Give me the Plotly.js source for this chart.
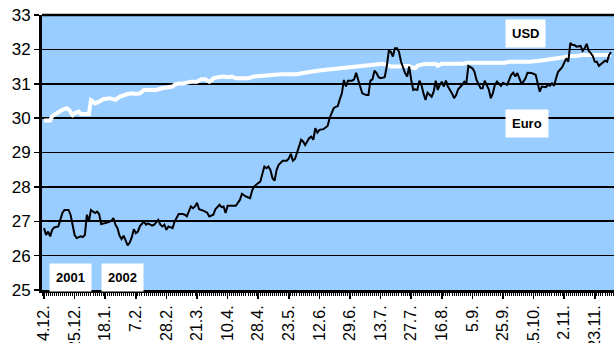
<!DOCTYPE html>
<html>
<head>
<meta charset="utf-8">
<script src="https://cdn.plot.ly/plotly-3.0.1.min.js"></script>
<style>
  html, body { margin: 0; padding: 0; background: #ffffff; }
  #chart { width: 614px; height: 343px; }
</style>
</head>
<body>
<div id="chart"></div>
<script>
// Trading-day index (0 = 4.12.2001) and rate in roubles
const tickDays = [0, 15, 30, 45, 60, 75, 90, 105, 120, 135, 150, 165, 180, 195, 210, 225, 240, 255, 270];
const tickLabels = ["4.12.", "25.12.", "18.1.", "7.2.", "28.2.", "21.3.", "10.4.", "28.4.", "23.5.", "12.6.",
                    "29.6.", "13.7.", "27.7.", "16.8.", "5.9.", "25.9.", "15.10.", "2.11.", "23.11."];

const usdDay = [0, 3, 4, 6, 9, 11, 12, 14, 15, 17, 18, 22, 23, 24, 25, 27, 29, 32, 34, 35, 37, 39, 41, 43, 45, 47, 49, 51, 54, 55,
  58, 60, 63, 64, 66, 68, 72, 75, 77, 79, 81, 82, 83, 85, 88, 90, 92, 94, 97, 100, 103, 107, 110, 113, 117, 121, 124, 127, 130,
  134, 137, 140, 143, 147, 150, 153, 157, 160, 163, 166, 168, 170, 174, 176, 179, 180, 182, 183, 186, 188, 192, 193, 195, 198,
  201, 205, 208, 211, 216, 221, 226, 228, 233, 238, 243, 248, 250, 251, 255, 258, 261, 264, 268, 271, 274, 277, 278];
const usdRate = [29.93, 29.93, 30.06, 30.14, 30.24, 30.29, 30.26, 30.09, 30.14, 30.19, 30.12, 30.12, 30.52, 30.48, 30.43, 30.48,
  30.55, 30.58, 30.55, 30.53, 30.62, 30.67, 30.70, 30.72, 30.70, 30.72, 30.82, 30.82, 30.80, 30.82, 30.87, 30.90, 30.92, 30.97,
  31.01, 31.01, 31.06, 31.06, 31.13, 31.13, 31.06, 31.09, 31.16, 31.19, 31.21, 31.19, 31.21, 31.16, 31.16, 31.16, 31.21, 31.24,
  31.25, 31.26, 31.28, 31.28, 31.28, 31.31, 31.35, 31.38, 31.40, 31.42, 31.45, 31.45, 31.48, 31.50, 31.52, 31.55, 31.58, 31.58,
  31.55, 31.50, 31.50, 31.52, 31.52, 31.48, 31.45, 31.52, 31.57, 31.58, 31.58, 31.52, 31.58, 31.58, 31.58, 31.58, 31.61, 31.61,
  31.61, 31.61, 31.61, 31.64, 31.64, 31.64, 31.67, 31.71, 31.71, 31.74, 31.77, 31.81, 31.81, 31.84, 31.84, 31.84, 31.84, 31.84, 31.84];

const euroDay = [0, 1, 2, 3, 4, 5, 7, 8, 9, 10, 12, 13, 14, 15, 16, 18, 19, 20, 21, 22, 23, 25, 26, 27, 28, 30, 31, 33, 34, 35,
  36, 37, 38, 39, 40, 41, 42, 43, 44, 45, 46, 47, 49, 50, 51, 53, 54, 56, 57, 58, 59, 60, 61, 63, 64, 66, 68, 69, 70, 72, 73, 74,
  75, 76, 78, 80, 81, 83, 84, 86, 87, 88, 89, 90, 92, 94, 96, 97, 99, 101, 102, 103, 105, 106, 108, 109, 110, 111, 112, 113, 114,
  115, 117, 119, 120, 121, 122, 123, 125, 126, 127, 128, 130, 131, 132, 133, 134, 135, 137, 139, 140, 142, 143, 144, 145, 146,
  147, 148, 149, 151, 152, 153, 154, 155, 156, 158, 159, 160, 161, 162, 163, 164, 165, 167, 168, 169, 170, 171, 172, 173, 174,
  175, 176, 177, 178, 179, 180, 181, 182, 183, 184, 185, 186, 187, 188, 190, 191, 192, 193, 194, 195, 196, 197, 198, 200, 201,
  202, 203, 205, 206, 207, 208, 210, 211, 212, 214, 215, 216, 218, 219, 220, 221, 222, 224, 225, 226, 227, 228, 229, 230, 231,
  232, 233, 234, 235, 236, 237, 239, 241, 242, 243, 244, 246, 247, 248, 249, 250, 251, 252, 254, 255, 256, 257, 258, 259, 260,
  261, 263, 264, 265, 266, 267, 268, 269, 270, 271, 272, 274, 275, 276, 277, 278];
const euroRate = [26.80, 26.60, 26.70, 26.56, 26.75, 26.82, 26.85, 27.09, 27.24, 27.33, 27.33, 27.19, 26.94, 26.60, 26.51, 26.56,
  26.54, 26.60, 27.19, 27.00, 27.33, 27.24, 27.28, 27.21, 26.92, 26.94, 26.96, 27.01, 27.09, 26.90, 26.80, 26.58, 26.48, 26.58,
  26.43, 26.30, 26.38, 26.53, 26.77, 26.65, 26.70, 26.86, 26.99, 26.90, 26.94, 26.87, 26.90, 27.04, 26.90, 26.85, 26.90, 26.75,
  26.85, 26.80, 26.99, 27.21, 27.21, 27.19, 27.14, 27.43, 27.38, 27.43, 27.54, 27.35, 27.31, 27.25, 27.14, 27.19, 27.35, 27.48,
  27.41, 27.43, 27.24, 27.45, 27.45, 27.45, 27.62, 27.80, 27.72, 27.67, 27.89, 28.01, 28.11, 28.15, 28.59, 28.54, 28.59, 28.49,
  28.25, 28.18, 28.49, 28.64, 28.76, 28.76, 28.83, 28.96, 28.76, 28.81, 29.17, 29.37, 29.32, 29.22, 29.42, 29.46, 29.37, 29.71,
  29.58, 29.66, 29.68, 29.77, 30.00, 30.29, 30.33, 30.35, 30.55, 30.72, 31.11, 30.92, 31.09, 31.09, 31.13, 31.32, 31.11, 30.94,
  30.72, 30.67, 30.67, 31.09, 31.13, 31.38, 31.31, 31.19, 31.16, 31.19, 31.50, 31.96, 31.93, 31.79, 32.03, 32.03, 31.93, 31.64,
  31.45, 31.31, 31.21, 31.50, 31.11, 30.82, 30.84, 30.82, 31.09, 30.97, 30.72, 30.53, 30.74, 30.62, 30.77, 31.09, 30.82, 30.97,
  31.06, 30.92, 31.09, 30.92, 30.72, 30.58, 30.67, 30.84, 30.97, 31.06, 31.01, 31.52, 31.45, 31.35, 31.11, 30.87, 30.87, 31.09,
  30.84, 30.58, 30.72, 30.97, 31.06, 30.94, 31.03, 31.01, 30.97, 31.11, 31.26, 31.32, 31.21, 31.31, 31.16, 31.01, 31.06, 31.16,
  31.32, 31.31, 31.26, 31.01, 30.77, 30.92, 30.90, 30.97, 30.94, 31.01, 30.94, 31.16, 31.35, 31.48, 31.64, 31.74, 31.64, 32.19,
  32.13, 32.13, 32.08, 32.10, 31.96, 32.03, 32.16, 31.96, 31.89, 31.81, 31.64, 31.64, 31.52, 31.61, 31.67, 31.64, 31.84, 31.92];

const FONT = "Arial, 'Liberation Sans', sans-serif";

const traces = [
  { x: usdDay, y: usdRate, type: "scatter", mode: "lines", name: "USD",
    line: { color: "#ffffff", width: 4 }, hoverinfo: "skip" },
  { x: euroDay, y: euroRate, type: "scatter", mode: "lines", name: "Euro",
    line: { color: "#000000", width: 2 }, hoverinfo: "skip" }
];

function boxLabel(text, x, y) {
  return { text: "<b>" + text + "</b>", xref: "paper", yref: "paper", x: x, y: y,
    xanchor: "center", yanchor: "middle", showarrow: false,
    bgcolor: "#ffffff", borderpad: 6, font: { family: FONT, size: 13, color: "#000000" } };
}

const layout = {
  width: 614, height: 343,
  margin: { l: 42, r: 0, t: 15, b: 53 },
  paper_bgcolor: "#ffffff",
  plot_bgcolor: "#99ccff",
  showlegend: false,
  font: { family: FONT, color: "#000000" },
  xaxis: {
    range: [-1, 279.4],
    tickmode: "array", tickvals: tickDays, ticktext: tickLabels,
    tickangle: -90, tickfont: { family: FONT, size: 16, color: "#000000" },
    ticks: "outside", ticklen: 6, tickwidth: 1.5, tickcolor: "#000000",
    minor: { tickmode: "linear", tick0: 0, dtick: 1, ticks: "outside", ticklen: 3, tickwidth: 1, tickcolor: "#000000", showgrid: false },
    showline: true, linecolor: "#000000", linewidth: 3,
    showgrid: false, zeroline: false, fixedrange: true
  },
  yaxis: {
    range: [25, 33], tickmode: "linear", tick0: 25, dtick: 1,
    tickfont: { family: FONT, size: 17, color: "#000000" },
    ticks: "outside", ticklen: 5, tickwidth: 1.5, tickcolor: "#000000",
    showline: true, linecolor: "#000000", linewidth: 3,
    showgrid: true, gridcolor: "#000000", gridwidth: 1.6,
    zeroline: false, fixedrange: true
  },
  shapes: [
    { type: "line", xref: "paper", yref: "paper", x0: 0, x1: 1, y0: 1, y1: 1,
      line: { color: "#000000", width: 2.5 }, layer: "above" }
  ],
  annotations: [
    boxLabel("USD", 0.8453, 0.9327),
    boxLabel("Euro", 0.8479, 0.6055),
    boxLabel("2001", 0.0498, 0.0455),
    boxLabel("2002", 0.1407, 0.0455)
  ]
};

Plotly.newPlot("chart", traces, layout, { displayModeBar: false, staticPlot: true });
</script>
</body>
</html>
